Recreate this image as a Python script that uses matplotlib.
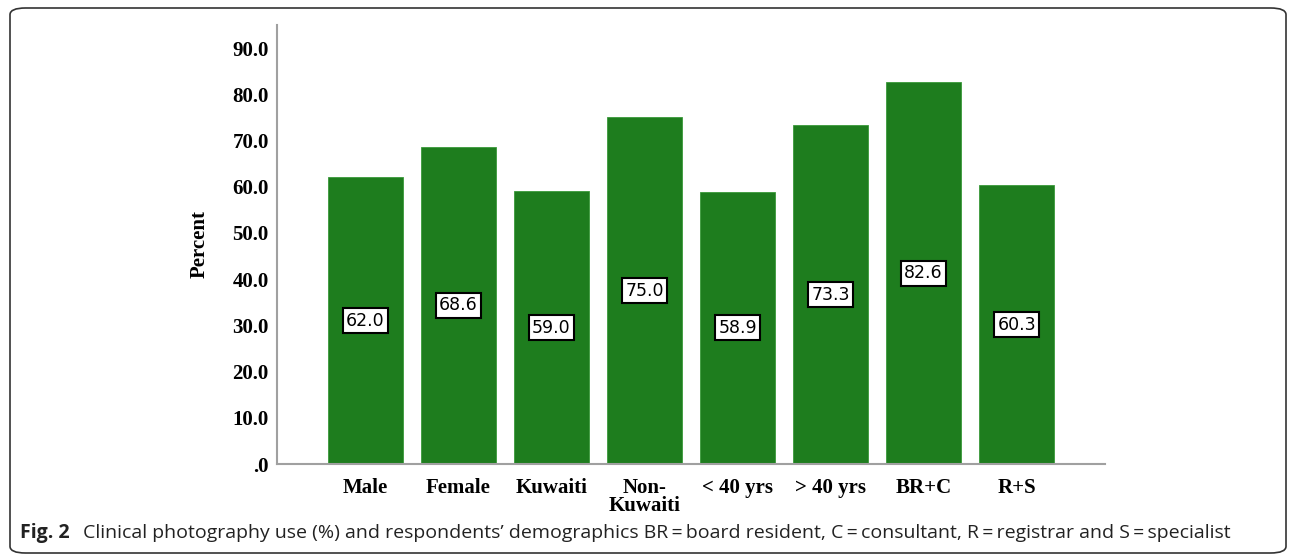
import matplotlib.pyplot as plt
from matplotlib.patches import FancyBboxPatch

# data
groups = ['Male', 'Female', 'Kuwaiti', 'Non-\nKuwaiti', '< 40 yrs', '> 40 yrs', 'BR+C', 'R+S']
percent = [62.0, 68.6, 59.0, 75.0, 58.9, 73.3, 82.6, 60.3]
yticks = [0, 10, 20, 30, 40, 50, 60, 70, 80, 90]
ytick_labels = ['.0', '10.0', '20.0', '30.0', '40.0', '50.0', '60.0', '70.0', '80.0', '90.0']

fig = plt.figure(figsize=(12.92, 5.57), dpi=100)

# rounded frame round the whole figure
frame = FancyBboxPatch((10 / 1292, 4 / 557), 1276 / 1292, 545 / 557,
                       boxstyle='round,pad=0,rounding_size=0.012',
                       transform=fig.transFigure, fill=False,
                       edgecolor='#333333', linewidth=1.2)
fig.patches.append(frame)

ax = fig.add_axes([277 / 1292, 1 - 464 / 557, 828 / 1292, 439 / 557])
x = range(len(groups))
ax.bar(x, percent, width=0.8, color='#1e7d1e', edgecolor='#3a9a3a', linewidth=0.6)

# value boxes at half the bar height
for xi, v in zip(x, percent):
    ax.text(xi, v / 2, f'{v:.1f}', ha='center', va='center', fontsize=12.5,
            family='DejaVu Sans', color='black',
            bbox=dict(boxstyle='square,pad=0.2', facecolor='white',
                      edgecolor='black', linewidth=1.5))

ax.set_xlim(-0.95, 7.95)
ax.set_ylim(0, 95)
ax.set_yticks(yticks)
ax.set_yticklabels(ytick_labels, fontsize=15, fontweight='bold', family='Liberation Serif')
ax.set_xticks(list(x))
ax.set_xticklabels(groups, fontsize=15, fontweight='bold', family='Liberation Serif',
                   linespacing=0.9)
ax.tick_params(length=0)
ax.tick_params(axis='x', pad=10)
ax.tick_params(axis='y', pad=6)

for s in ['top', 'right']:
    ax.spines[s].set_visible(False)
for s in ['left', 'bottom']:
    ax.spines[s].set_color('#a0a0a0')
    ax.spines[s].set_linewidth(1.5)

ax.set_ylabel('Percent', fontsize=15, fontweight='bold', family='Liberation Serif', labelpad=16)

# caption
fig.text(20 / 1292, 1 - 533 / 557, 'Fig. 2', fontsize=14, family='Open Sans',
         fontweight='bold', va='center', color='#222222')
fig.text(83 / 1292, 1 - 533 / 557,
         'Clinical photography use (%) and respondents\u2019 demographics BR\u2009=\u2009board resident, '
         'C\u2009=\u2009consultant, R\u2009=\u2009registrar and S\u2009=\u2009specialist',
         fontsize=14, family=['Open Sans', 'DejaVu Sans'], va='center', color='#222222')

fig.savefig('out.png', dpi=100)
